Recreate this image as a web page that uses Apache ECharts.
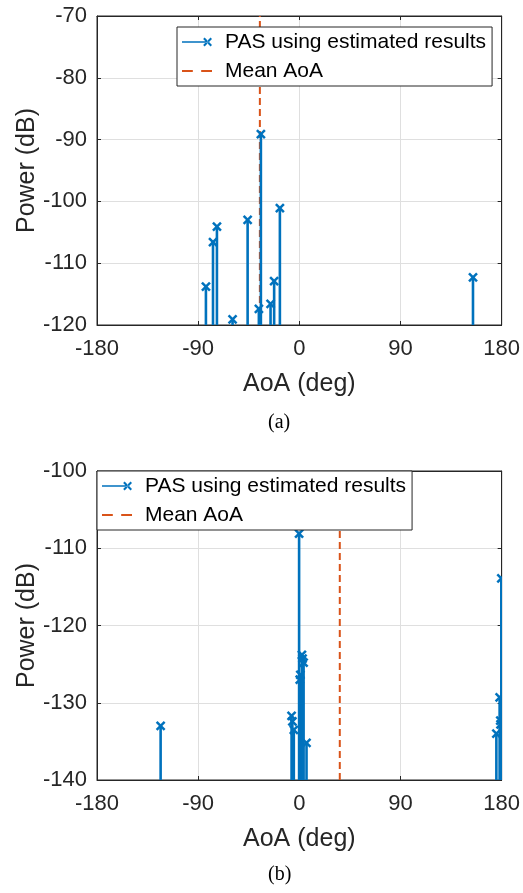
<!DOCTYPE html>
<html>
<head>
<meta charset="utf-8">
<script src="https://cdn.jsdelivr.net/npm/echarts@6/dist/echarts.min.js"></script>
<style>
html,body{margin:0;padding:0;background:#fff;}
#chart{width:523px;height:893px;}
</style>
</head>
<body>
<div id="chart"></div>
<script>
// ---------- data ----------
const xTicks = [-180, -90, 0, 90, 180];
const topYTicks = [-120, -110, -100, -90, -80, -70];
const bottomYTicks = [-140, -130, -120, -110, -100];

const topAoA   = [-83.1, -76.8, -73.3, -59.4, -46.0, -36.0, -34.2, -25.6, -22.4, -17.3, 154.5];
const topPower = [-113.8, -106.6, -104.1, -119.1, -103.0, -117.4, -89.1, -116.6, -112.9, -101.1, -112.3];
const topMeanAoA = -35.1;

const bottomAoA   = [-123.4, -6.9, -6.2, -4.9, -0.2, 0.4, 0.9, 2.3, 2.9, 3.8, 6.4, 175.3, 178.2, 178.8, 179.0, 179.7];
const bottomPower = [-133.0, -131.7, -132.4, -133.5, -108.1, -127.0, -126.4, -123.8, -124.3, -124.8, -135.2, -134.0, -129.3, -132.3, -132.8, -113.9];
const bottomMeanAoA = 36.0;

const seriesNames = ['PAS using estimated results', 'Mean AoA'];
const captions = ['(a)', '(b)'];

// ---------- style ----------
const BLUE = '#0072BD', ORANGE = '#D95319', AX = '#262626';
const FONT = '"Liberation Sans", Arial, Helvetica, sans-serif';

const chart = echarts.init(document.getElementById('chart'), null, {renderer: 'canvas'});

function zip(a, b) { return a.map((v, i) => [v, b[i]]); }

function stemRender(baseY) {
  return function (params, api) {
    const x = api.value(0), y = api.value(1);
    const top = api.coord([x, y]);
    const bot = api.coord([x, baseY]);
    const s = 4;
    return {
      type: 'group',
      children: [
        {type: 'line', shape: {x1: bot[0], y1: bot[1], x2: top[0], y2: top[1]},
         style: {stroke: BLUE, lineWidth: 2.6}},
        {type: 'line', shape: {x1: top[0]-s, y1: top[1]-s, x2: top[0]+s, y2: top[1]+s},
         style: {stroke: BLUE, lineWidth: 2.5}},
        {type: 'line', shape: {x1: top[0]-s, y1: top[1]+s, x2: top[0]+s, y2: top[1]-s},
         style: {stroke: BLUE, lineWidth: 2.5}}
      ]
    };
  };
}

const grids = [
  {left: 97, top: 16, width: 405, height: 309, show: true, borderColor: AX, borderWidth: 1},
  {left: 97, top: 471, width: 405, height: 309, show: true, borderColor: AX, borderWidth: 1}
];

const yTickSets = [topYTicks, bottomYTicks];

const xAxes = [], yAxes = [];
[0, 1].forEach(g => {
  xAxes.push({
    type: 'value', gridIndex: g, min: xTicks[0], max: xTicks[xTicks.length-1], interval: 90,
    position: 'bottom',
    name: 'AoA (deg)', nameLocation: 'middle', nameGap: 47, nameMoveOverlap: false,
    nameTextStyle: {fontSize: 25, color: AX, fontFamily: FONT},
    axisLine: {show: true, onZero: false, lineStyle: {color: AX, width: 1}},
    axisTick: {show: true, inside: true, length: 4, lineStyle: {color: AX}},
    axisLabel: {fontSize: 22, color: AX, fontFamily: FONT, margin: 13},
    splitLine: {show: true, lineStyle: {color: '#dfdfdf', width: 1}}
  });
  xAxes.push({
    type: 'value', gridIndex: g, min: xTicks[0], max: xTicks[xTicks.length-1], interval: 90,
    position: 'top',
    axisLine: {show: true, onZero: false, lineStyle: {color: AX, width: 1}},
    axisTick: {show: true, inside: true, length: 4, lineStyle: {color: AX}},
    axisLabel: {show: false}, splitLine: {show: false}
  });
  const yt = yTickSets[g];
  yAxes.push({
    type: 'value', gridIndex: g, min: yt[0], max: yt[yt.length-1], interval: 10,
    position: 'left',
    name: 'Power (dB)', nameLocation: 'middle', nameGap: 57, nameRotate: 90, nameMoveOverlap: false,
    nameTextStyle: {fontSize: 25, color: AX, fontFamily: FONT},
    axisLine: {show: true, onZero: false, lineStyle: {color: AX, width: 1}},
    axisTick: {show: true, inside: true, length: 4, lineStyle: {color: AX}},
    axisLabel: {fontSize: 22, color: AX, fontFamily: FONT, margin: 10},
    splitLine: {show: true, lineStyle: {color: '#dfdfdf', width: 1}}
  });
  yAxes.push({
    type: 'value', gridIndex: g, min: yt[0], max: yt[yt.length-1], interval: 10,
    position: 'right',
    axisLine: {show: true, onZero: false, lineStyle: {color: AX, width: 1}},
    axisTick: {show: true, inside: true, length: 4, lineStyle: {color: AX}},
    axisLabel: {show: false}, splitLine: {show: false}
  });
});

const stemIcon = 'path://M0 4.2 L27 4.2 L27 5.8 L0 5.8 Z M21.5 2 L23 0.5 L30.5 8 L29 9.5 Z M21.5 8 L23 9.5 L30.5 2 L29 0.5 Z';
const dashIcon = 'path://M0 4.1 L11 4.1 L11 5.9 L0 5.9 Z M19.5 4.1 L30.5 4.1 L30.5 5.9 L19.5 5.9 Z M0 0.5 L0 0.5 Z M30.5 9.5 L30.5 9.5 Z';

function makeLegend(left, top) {
  return {
    orient: 'vertical', left: left, top: top,
    backgroundColor: '#fff', borderColor: AX, borderWidth: 1, borderRadius: 0,
    padding: [4, 6, 4, 5], itemGap: 7, itemWidth: 30, itemHeight: 9,
    selectedMode: false,
    textStyle: {fontSize: 21, color: '#000', fontFamily: FONT, lineHeight: 22, padding: [0, 0, 0, 8]},
    data: [
      {name: seriesNames[0], icon: stemIcon, itemStyle: {color: BLUE}},
      {name: seriesNames[1], icon: dashIcon, itemStyle: {color: ORANGE}}
    ]
  };
}

const panels = [
  {aoa: topAoA, pw: topPower, mean: topMeanAoA, yt: topYTicks},
  {aoa: bottomAoA, pw: bottomPower, mean: bottomMeanAoA, yt: bottomYTicks}
];

const series = [];
panels.forEach((p, g) => {
  series.push({
    name: seriesNames[0], type: 'custom', xAxisIndex: 2*g, yAxisIndex: 2*g,
    renderItem: stemRender(p.yt[0]), itemStyle: {color: BLUE},
    data: zip(p.aoa, p.pw), clip: true, z: 3
  });
  series.push({
    name: seriesNames[1], type: 'line', xAxisIndex: 2*g, yAxisIndex: 2*g,
    data: [[p.mean, p.yt[0]], [p.mean, p.yt[p.yt.length-1]]],
    showSymbol: false, symbol: 'none', color: ORANGE, itemStyle: {color: ORANGE},
    lineStyle: {color: ORANGE, width: 2, type: [7, 4]}, z: 2
  });
});

chart.setOption({
  animation: false,
  backgroundColor: '#fff',
  grid: grids,
  xAxis: xAxes,
  yAxis: yAxes,
  legend: [makeLegend(177, 27), makeLegend(97, 471)],
  series: series,
  graphic: [
    {type: 'text', left: 268, top: 413, style: {text: captions[0], font: '20px "Liberation Serif", "Times New Roman", serif', fill: '#000'}},
    {type: 'text', left: 268, top: 865, style: {text: captions[1], font: '20px "Liberation Serif", "Times New Roman", serif', fill: '#000'}}
  ]
});
</script>
</body>
</html>
